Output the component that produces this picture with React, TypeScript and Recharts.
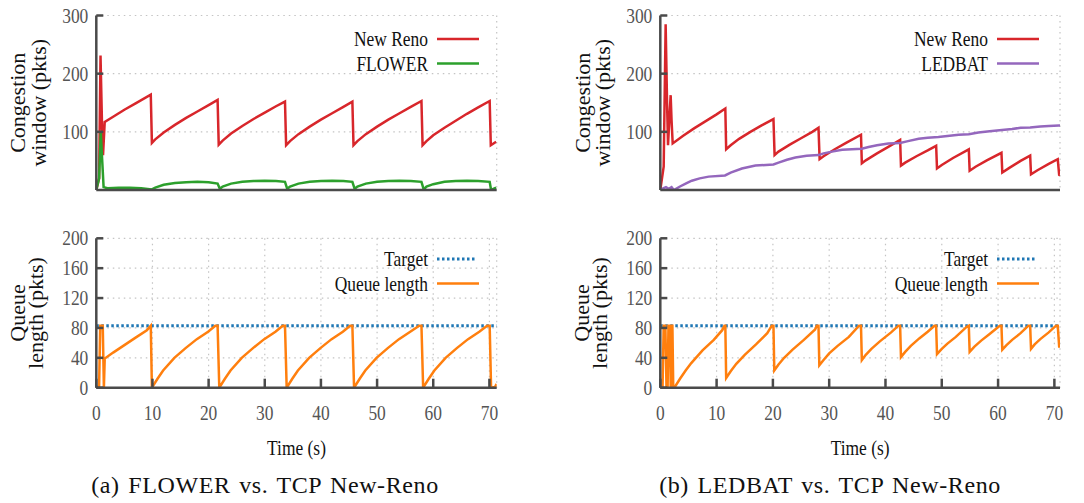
import React from 'react';
import { LineChart, Line, XAxis, YAxis, CartesianGrid, Legend } from 'recharts';

type Pt = [number, number];

const timeTicks = [0, 10, 20, 30, 40, 50, 60, 70];
const cwndTicks = [100, 200, 300];
const queueTicks = [0, 40, 80, 120, 160, 200];

// (a) FLOWER vs New Reno — congestion window (time s, pkts)
const renoVsFlower: Pt[] = [
  [0, 0], [0.5, 20], [0.75, 231], [1.0, 120], [1.2, 60], [1.5, 117], [3, 126], [5, 138], [7, 149], [9.7, 164],
  [9.9, 81], [10.5, 87], [12, 99], [14, 112], [16, 124], [18, 135], [20, 146], [21.6, 155],
  [21.8, 78], [22.5, 85], [24, 97], [26, 110], [28, 122], [30, 133], [32, 144], [33.6, 152],
  [33.8, 77], [34.5, 84], [36, 96], [38, 109], [40, 121], [42, 132], [44, 143], [45.6, 152],
  [45.8, 77], [46.5, 84], [48, 96], [50, 109], [52, 121], [54, 132], [56, 143], [57.9, 153],
  [58.1, 77], [58.8, 84], [60, 94], [62, 107], [64, 119], [66, 131], [68, 142], [70.05, 153],
  [70.25, 77], [71.2, 83],
];

const flower: Pt[] = [
  [0, 0], [0.5, 20], [0.8, 100], [1.0, 60], [1.3, 5], [2, 3], [4, 4], [6, 4], [8, 3], [9.9, 1],
  [10.5, 4], [12, 9], [14, 12], [16, 13.5], [18, 14], [20, 13.5], [21.6, 11],
  [22, 2], [22.5, 6], [24, 11], [26, 14], [28, 15.5], [30, 16], [32, 15.5], [33.6, 14],
  [34, 2], [34.5, 6], [36, 11], [38, 14], [40, 15.5], [42, 16], [44, 15.5], [45.6, 14],
  [46, 2], [46.5, 6], [48, 11], [50, 14], [52, 15.5], [54, 16], [56, 15.5], [57.9, 14],
  [58.3, 1], [58.8, 6], [60, 10], [62, 14], [64, 15.5], [66, 16], [68, 15.5], [70.05, 14],
  [70.3, 0], [71.2, 4],
];

const queueFlower: Pt[] = [
  [0, 0], [0.5, 2], [0.7, 83], [1.15, 83], [1.35, 0], [1.5, 39], [3, 47], [5, 57], [7, 67], [9, 77], [9.7, 83],
  [9.9, 0], [10.9, 12], [11.9, 23], [13.9, 40], [15.9, 53], [17.9, 65], [19.9, 75], [21.2, 83], [21.6, 83],
  [21.9, 0], [22.9, 12], [23.9, 23], [25.9, 40], [27.9, 53], [29.9, 65], [31.9, 75], [33.2, 83], [33.6, 83],
  [33.9, 0], [34.9, 12], [35.9, 23], [37.9, 40], [39.9, 53], [41.9, 65], [43.9, 75], [45.2, 83], [45.6, 83],
  [45.9, 0], [46.9, 12], [47.9, 23], [49.9, 40], [51.9, 53], [53.9, 65], [55.9, 75], [57.5, 83], [57.9, 83],
  [58.2, 0], [59.2, 12], [60.2, 23], [62.2, 40], [64.2, 53], [66.2, 65], [68.2, 75], [69.6, 83], [70.05, 83],
  [70.3, 0], [71, 1], [71.3, 5],
];

const targetFlower: Pt[] = [[0, 83], [71.3, 83]];

// (b) LEDBAT vs New Reno
const renoVsLedbat: Pt[] = [
  [0, 0], [0.6, 40], [0.95, 285], [1.2, 150], [1.37, 77], [1.6, 120], [1.84, 163], [2.0, 120], [2.2, 80],
  [4, 93], [6, 106], [8, 118], [10, 130], [11.55, 140],
  [11.7, 70], [12.5, 77], [14, 88], [16, 100], [18, 111], [20.1, 122],
  [20.3, 60], [21, 66], [23, 78], [25, 89], [27, 100], [28.1, 107],
  [28.3, 53], [29, 58], [31, 70], [33, 81], [35.65, 95],
  [35.8, 46], [36.5, 51], [38.5, 63], [40.5, 74], [42.6, 86],
  [42.75, 42], [43.5, 47], [45.5, 58], [47.5, 68], [49, 76],
  [49.15, 37], [50, 43], [52, 55], [54.8, 70],
  [54.95, 33], [56, 40], [58, 51], [60.6, 64],
  [60.75, 30], [62, 38], [64, 50], [65.7, 59],
  [65.85, 27], [67, 34], [69, 45], [70.6, 53],
  [70.85, 26], [71, 25],
];

const ledbat: Pt[] = [
  [0, 0], [0.5, 3], [1, 5], [1.5, 2], [2, 5], [2.4, 0], [3.5, 6], [4.5, 11], [5.6, 16], [7, 20], [8.6, 23],
  [11.5, 25], [12.5, 30], [14.5, 37], [16.9, 42], [20.1, 44], [21, 47], [22.5, 52], [24, 56], [26, 59],
  [28.1, 60], [29, 63], [30.5, 66], [32.3, 69], [35.8, 71], [37, 74], [38.5, 77], [40.5, 80], [42.6, 81],
  [44, 84], [45.9, 88], [47.5, 90], [49.4, 91], [51, 93], [53, 95], [54.8, 96], [56.5, 99], [58.5, 101],
  [60.7, 103], [62.5, 105], [64, 107], [65.7, 107.5], [67.5, 109], [69, 110], [70.8, 111], [71, 111],
];

const queueLedbat: Pt[] = [
  [0, 0], [0.4, 0], [0.6, 83], [0.9, 83], [1.1, 0], [1.3, 0], [1.45, 83], [1.7, 83], [1.85, 0], [1.95, 83],
  [2.15, 83], [2.3, 0], [2.5, 0], [3.5, 12], [4.5, 23], [5.5, 33], [7.5, 50], [9.5, 64], [11, 77], [11.4, 83], [11.55, 83],
  [11.7, 13], [12.5, 22], [13.5, 32], [15, 44], [17, 58], [19, 73], [19.8, 83], [20.1, 83],
  [20.25, 23], [21, 31], [22, 40], [23.5, 51], [25.5, 64], [27.5, 78], [27.8, 83], [28.1, 83],
  [28.25, 30], [29, 37], [30, 46], [31.5, 56], [33.5, 68], [35.3, 83], [35.65, 83],
  [35.8, 37], [36.5, 44], [37.5, 52], [39, 62], [41, 74], [42.3, 83], [42.6, 83],
  [42.75, 41], [43.5, 48], [44.5, 56], [46, 66], [47.5, 75], [48.7, 83], [49, 83],
  [49.15, 45], [50, 52], [51, 59], [52.5, 68], [54.5, 82], [54.8, 83],
  [54.95, 48], [55.8, 55], [57, 63], [58.5, 72], [60.3, 83], [60.6, 83],
  [60.75, 51], [61.5, 57], [62.5, 64], [64, 73], [65.4, 83], [65.7, 83],
  [65.85, 52], [66.5, 58], [67.5, 65], [69, 74], [70.3, 83], [70.6, 83], [70.85, 55], [71, 55],
];

const targetLedbat: Pt[] = [[0, 83], [71, 83]];

const AXIS = '#4a4a4a';
const FONT = '"Liberation Serif", "Times New Roman", serif';

interface Series {
  name: string;
  points: Pt[];
  color: string;
  dotted?: boolean;
}

interface PanelProps {
  left: number;
  top: number;
  width: number;
  height: number;
  margin: { top: number; right: number; bottom: number; left: number };
  yWidth: number;
  xHeight: number;
  xMax: number;
  yMax: number;
  yTicks: number[];
  timeLabels: boolean;
  yLabel: [string, string];
  yLabelX: [number, number];
  legendLeft: number;
  legendTop: number;
  series: Series[];
}

const YTick = (props: any) => {
  const { x, y, payload } = props;
  return (
    <text transform={`translate(${x - 8},${y + 7}) scale(0.85,1)`} textAnchor="end" fontSize={20.5} fontFamily={FONT} fill="#555">
      {payload.value}
    </text>
  );
};

const XTick = (props: any) => {
  const { x, y, payload } = props;
  return (
    <text transform={`translate(${x},${y + 32}) scale(0.85,1)`} textAnchor="middle" fontSize={20.5} fontFamily={FONT} fill="#555">
      {payload.value}
    </text>
  );
};

const Panel: React.FC<PanelProps> = (p) => {
  const plotTop = p.margin.top;
  const plotBottom = p.height - p.margin.bottom - p.xHeight;
  const plotLeft = p.margin.left + p.yWidth;
  const plotRight = p.width - p.margin.right;
  const midY = (plotTop + plotBottom) / 2;
  const midX = (plotLeft + plotRight) / 2;

  const legend = () => (
    <svg width={190} height={60}>
      {p.series.map((s, i) => {
        const cy = 19 + i * 24.5;
        return (
          <g key={s.name}>
            <text transform={`translate(128,${cy + 7}) scale(0.85,1)`} textAnchor="end" fontSize={20.5} fontFamily={FONT} fill="#111">
              {s.name}
            </text>
            <line x1={137} x2={s.dotted ? 176 : 179} y1={cy} y2={cy} stroke={s.color} strokeWidth={s.dotted ? 3 : 2.5} strokeDasharray={s.dotted ? '2.5 2.5' : undefined} />
          </g>
        );
      })}
    </svg>
  );

  return (
    <div style={{ position: 'absolute', left: p.left, top: p.top }}>
      <LineChart width={p.width} height={p.height} margin={p.margin}>
        <CartesianGrid stroke="#c4c4c4" strokeWidth={1.2} strokeDasharray="1.5 4" />
        <XAxis
          dataKey="t"
          type="number"
          domain={[0, p.xMax]}
          ticks={timeTicks}
          interval={0}
          allowDataOverflow
          height={p.xHeight}
          axisLine={{ stroke: AXIS, strokeWidth: 2.5 }}
          tickLine={{ stroke: AXIS, strokeWidth: 2.5 }}
          tickSize={-9}
          tickMargin={9}
          tick={p.timeLabels ? <XTick /> : false}
          label={
            p.timeLabels
              ? {
                  content: () => (
                    <text transform={`translate(${midX},${plotBottom + 67}) scale(0.85,1)`} textAnchor="middle" fontSize={20.5} fontFamily={FONT} fill="#111">
                      Time (s)
                    </text>
                  ),
                }
              : undefined
          }
        />
        <YAxis
          type="number"
          domain={[0, p.yMax]}
          ticks={p.yTicks}
          interval={0}
          allowDataOverflow
          width={p.yWidth}
          axisLine={{ stroke: AXIS, strokeWidth: 2.5 }}
          tickLine={{ stroke: AXIS, strokeWidth: 2.5 }}
          tickSize={-7}
          tickMargin={7}
          tick={<YTick />}
          label={{
            content: () => (
              <g fontSize={22} fontFamily={FONT} fill="#111">
                <text transform={`translate(${p.yLabelX[0]},${midY}) rotate(-90)`} textAnchor="middle">
                  {p.yLabel[0]}
                </text>
                <text transform={`translate(${p.yLabelX[1]},${midY}) rotate(-90)`} textAnchor="middle">
                  {p.yLabel[1]}
                </text>
              </g>
            ),
          }}
        />
        <Legend
          layout="vertical"
          align="center"
          verticalAlign="middle"
          wrapperStyle={{ left: p.legendLeft, top: p.legendTop, width: 190, height: 60 }}
          content={legend}
        />
        {p.series.map((s) => (
          <Line
            key={s.name}
            data={s.points.map(([t, v]) => ({ t, v }))}
            dataKey="v"
            name={s.name}
            type="linear"
            stroke={s.color}
            strokeWidth={s.dotted ? 3 : 2.5}
            strokeDasharray={s.dotted ? '2.5 2.5' : undefined}
            dot={false}
            activeDot={false}
            isAnimationActive={false}
          />
        ))}
      </LineChart>
    </div>
  );
};

const captionStyle: React.CSSProperties = {
  position: 'absolute',
  top: 474,
  width: 500,
  textAlign: 'center',
  fontFamily: FONT,
  fontSize: 24,
  lineHeight: '23px',
  letterSpacing: 0.6,
  wordSpacing: 2,
  color: '#111',
};

const App: React.FC = () => {
  return (
    <div style={{ position: 'absolute', left: 0, top: 0, width: 1084, height: 503, background: '#fff', overflow: 'hidden' }}>
      <Panel
        left={0}
        top={0}
        width={500}
        height={200}
        margin={{ top: 15.5, right: 3.3, bottom: 0, left: 0 }}
        yWidth={96.3}
        xHeight={10}
        xMax={71.3}
        yMax={300}
        yTicks={cwndTicks}
        timeLabels={false}
        yLabel={['Congestion', 'window (pkts)']}
        yLabelX={[25, 46]}
        legendLeft={300}
        legendTop={20}
        series={[
          { name: 'New Reno', points: renoVsFlower, color: '#d8262b' },
          { name: 'FLOWER', points: flower, color: '#2ca02c' },
        ]}
      />
      <Panel
        left={0}
        top={225}
        width={500}
        height={245}
        margin={{ top: 13.3, right: 3.3, bottom: 42.3, left: 0 }}
        yWidth={96.3}
        xHeight={40}
        xMax={71.3}
        yMax={200}
        yTicks={queueTicks}
        timeLabels
        yLabel={['Queue', 'length (pkts)']}
        yLabelX={[25, 43]}
        legendLeft={300}
        legendTop={15}
        series={[
          { name: 'Target', points: targetFlower, color: '#1f77b4', dotted: true },
          { name: 'Queue length', points: queueFlower, color: '#ff7f0e' },
        ]}
      />
      <Panel
        left={560}
        top={0}
        width={510}
        height={200}
        margin={{ top: 15.5, right: 10, bottom: 0, left: 0 }}
        yWidth={100.3}
        xHeight={10}
        xMax={71}
        yMax={300}
        yTicks={cwndTicks}
        timeLabels={false}
        yLabel={['Congestion', 'window (pkts)']}
        yLabelX={[30, 50]}
        legendLeft={300}
        legendTop={20}
        series={[
          { name: 'New Reno', points: renoVsLedbat, color: '#d8262b' },
          { name: 'LEDBAT', points: ledbat, color: '#9467bd' },
        ]}
      />
      <Panel
        left={560}
        top={225}
        width={510}
        height={245}
        margin={{ top: 13.3, right: 10, bottom: 42.3, left: 0 }}
        yWidth={100.3}
        xHeight={40}
        xMax={71}
        yMax={200}
        yTicks={queueTicks}
        timeLabels
        yLabel={['Queue', 'length (pkts)']}
        yLabelX={[29, 47]}
        legendLeft={300}
        legendTop={15}
        series={[
          { name: 'Target', points: targetLedbat, color: '#1f77b4', dotted: true },
          { name: 'Queue length', points: queueLedbat, color: '#ff7f0e' },
        ]}
      />
      <div style={{ ...captionStyle, left: 15 }}>(a) FLOWER vs. TCP New-Reno</div>
      <div style={{ ...captionStyle, left: 580 }}>(b) LEDBAT vs. TCP New-Reno</div>
    </div>
  );
};

export default App;
